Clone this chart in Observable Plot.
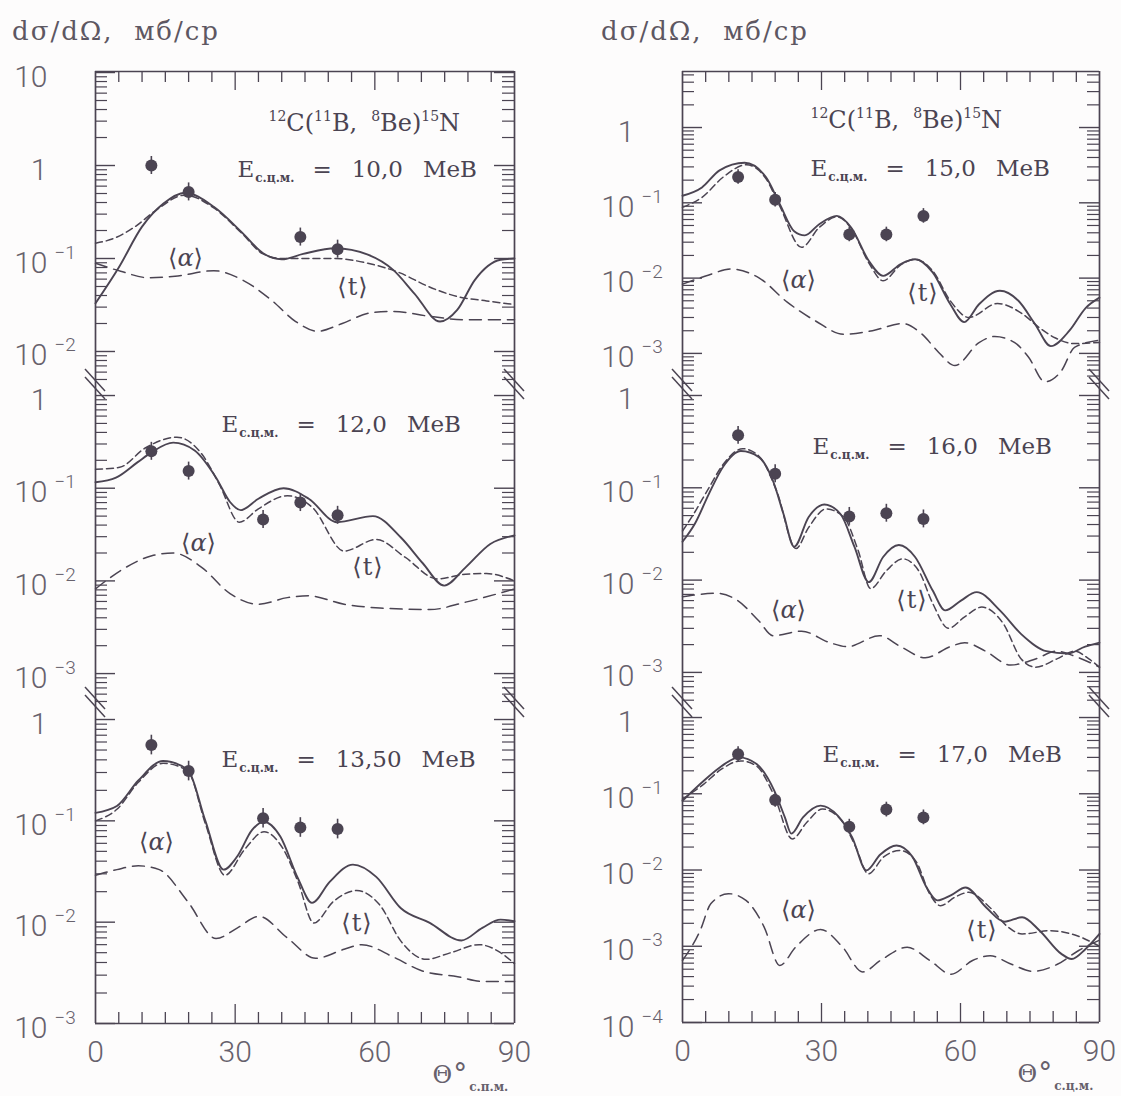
<!DOCTYPE html>
<html>
<head>
<meta charset="utf-8">
<script src="https://cdn.jsdelivr.net/npm/d3@7"></script>
<script src="https://cdn.jsdelivr.net/npm/@observablehq/plot@0.6"></script>
<style>
  body { margin: 0; background: #fdfcfc; }
  #fig { position: relative; width: 1121px; height: 1096px; overflow: hidden; background: #fdfcfc; }
  .head { position: absolute; font-family: "DejaVu Serif", serif; font-size: 26px; line-height: 26px;
          letter-spacing: 2px; color: #5d5762; white-space: pre; }
</style>
</head>
<body>
<div id="fig">
  <div class="head" style="left:12px; top:18px">dσ/dΩ,  мб/ср</div>
  <div class="head" style="left:601px; top:18px">dσ/dΩ,  мб/ср</div>
</div>
<script>
// ---- Angular grid of the frame (degrees, c.m.) ----
const xTicksMinor = [5, 10, 15, 20, 25, 35, 40, 45, 50, 55, 65, 70, 75, 80, 85];
const xTicksMajor = [30, 60];
const xTickLabels = [0, 30, 60, 90];

// ---- E = 10.0 MeV ----
const full10 = [[0,0.033],[5,0.08],[10,0.22],[14.6,0.39],[19.2,0.51],[25.4,0.36],[31.5,0.19],[36,0.114],[40,0.098],[44.6,0.112],[51.5,0.129],[58.5,0.11],[64,0.075],[68.5,0.042],[74,0.021],[77.7,0.028],[81.5,0.059],[87,0.097],[90,0.1]];
const triton10 = [[0,0.146],[4,0.165],[8.5,0.22],[13,0.33],[19.2,0.48],[25.4,0.35],[31.5,0.185],[36,0.112],[40,0.1],[45,0.1],[51.5,0.1],[58.5,0.089],[65.4,0.07],[71.5,0.05],[77.7,0.039],[84,0.035],[90,0.032]];
const alpha10 = [[0,0.089],[5.4,0.073],[11.5,0.062],[17.7,0.065],[25.4,0.074],[31.5,0.059],[37.7,0.036],[43,0.021],[47.7,0.0165],[53,0.02],[59,0.026],[64,0.027],[71.5,0.024],[79,0.022],[90,0.022]];
const exp10 = [[12,1.0],[20,0.52],[44,0.17],[52,0.126]];

// ---- E = 12.0 MeV ----
const full12 = [[0,0.116],[4.4,0.13],[9,0.19],[12.1,0.245],[16.7,0.31],[21.3,0.255],[25.9,0.13],[28.9,0.071],[31.2,0.058],[35,0.077],[40.4,0.1],[45.8,0.077],[51.9,0.043],[59.6,0.05],[65.7,0.029],[70.3,0.0155],[74.9,0.0089],[79.5,0.014],[84.8,0.025],[90,0.031]];
const triton12 = [[0,0.16],[5.2,0.168],[10.6,0.27],[17.5,0.355],[22.8,0.235],[26.6,0.11],[30.9,0.043],[35,0.06],[41.2,0.083],[46.6,0.062],[53.4,0.021],[60.3,0.028],[66.5,0.018],[73.4,0.0105],[79.5,0.0118],[84,0.012],[90,0.01]];
const alpha12 = [[0,0.0082],[6,0.0135],[12.1,0.0187],[16.7,0.02],[22.8,0.014],[28.9,0.0073],[35,0.0056],[41.2,0.0066],[45.8,0.0069],[53.4,0.0056],[61.1,0.0051],[71.8,0.0049],[79.5,0.0059],[90,0.0082]];
const exp12 = [[12,0.25],[20,0.153],[36,0.046],[44,0.07],[52,0.051]];

// ---- E = 13.50 MeV ----
const full135 = [[0,0.12],[4.6,0.14],[9.2,0.25],[14.5,0.39],[19.8,0.32],[23.6,0.1],[27.5,0.033],[30.5,0.045],[33.6,0.081],[36.2,0.098],[39.7,0.07],[43.5,0.027],[46.5,0.0155],[50.3,0.025],[55.3,0.037],[60.3,0.028],[65.6,0.0137],[71.7,0.0099],[78.6,0.0066],[83.1,0.0088],[87,0.0106],[90,0.0102]];
const triton135 = [[0,0.1],[4.6,0.13],[9.2,0.24],[14.5,0.37],[19.8,0.31],[23.6,0.094],[27.8,0.029],[32,0.052],[36.2,0.078],[40.4,0.052],[43.5,0.025],[46.9,0.0098],[51.1,0.016],[56.1,0.0205],[61.1,0.0147],[65.6,0.0065],[71,0.0043],[76.3,0.005],[82.4,0.006],[87,0.005],[90,0.0039]];
const alpha135 = [[0,0.029],[4.6,0.033],[9.2,0.036],[13.7,0.033],[19.8,0.016],[25.9,0.0069],[30.5,0.0088],[35.1,0.0114],[41.2,0.007],[47.3,0.0044],[53.4,0.0054],[57.2,0.006],[64.1,0.0045],[70.2,0.0033],[77.8,0.0029],[83.1,0.0026],[90,0.0026]];
const exp135 = [[12,0.56],[20,0.31],[36,0.106],[44,0.086],[52,0.083]];

// ---- E = 15.0 MeV ----
const full15 = [[0,0.124],[4.2,0.16],[8,0.27],[13.4,0.34],[18,0.22],[21,0.096],[24.1,0.042],[26.4,0.037],[29.5,0.052],[33.3,0.067],[36.4,0.047],[40.2,0.017],[43.3,0.0107],[47.1,0.0154],[50.2,0.0178],[54,0.0119],[57.8,0.0045],[60.8,0.0026],[64,0.0045],[68.5,0.0068],[72.5,0.005],[76,0.0025],[79.5,0.00125],[83.5,0.002],[87,0.004],[90,0.0055]];
const triton15 = [[0,0.087],[4.2,0.118],[8.8,0.22],[13.8,0.32],[18,0.21],[21,0.09],[25.7,0.0256],[29.5,0.047],[33.3,0.065],[36.4,0.046],[40.2,0.016],[43.3,0.0092],[47.1,0.015],[50.2,0.0178],[54,0.0125],[57.8,0.005],[61.8,0.003],[68,0.0046],[73.5,0.0033],[77,0.0022],[80.5,0.0016],[84.6,0.00135],[90,0.0014]];
const alpha15 = [[0,0.0083],[5.7,0.011],[10.3,0.0132],[16.5,0.0101],[22.6,0.0048],[28.7,0.0027],[34.8,0.0018],[41,0.002],[47.5,0.0025],[51.7,0.0018],[55.3,0.00103],[58.8,0.00069],[64,0.00139],[67.4,0.00168],[71.7,0.00139],[74.7,0.00089],[78.2,0.00042],[81.8,0.00059],[84.6,0.0012],[90,0.0015]];
const exp15 = [[12,0.22],[20,0.11],[36,0.038],[44,0.038],[52,0.067]];

// ---- E = 16.0 MeV ----
const full16 = [[0,0.026],[2.7,0.041],[5.7,0.086],[8.8,0.17],[12.6,0.25],[16.5,0.215],[19.5,0.12],[21.8,0.052],[24.1,0.023],[27.2,0.048],[30.6,0.066],[34.1,0.052],[37.1,0.023],[40.2,0.0095],[43.3,0.0178],[46.7,0.024],[50.2,0.0178],[54,0.0077],[56.7,0.0047],[60.1,0.006],[63.5,0.0074],[68.5,0.0047],[73.1,0.0026],[78.5,0.0017],[83.1,0.0016],[86.9,0.0019],[90,0.0021]];
const triton16 = [[0,0.034],[2.7,0.055],[5.7,0.1],[8.8,0.18],[13,0.265],[16.5,0.22],[20.3,0.093],[24.5,0.022],[27.2,0.037],[31,0.059],[34.8,0.048],[37.9,0.021],[40.6,0.0081],[44.1,0.0128],[47.5,0.017],[50.9,0.0128],[54,0.0056],[57.4,0.003],[60.9,0.004],[64.6,0.0051],[69.2,0.0034],[73.1,0.0014],[76.2,0.00114],[80.8,0.0014],[84.6,0.0017],[87.7,0.0014],[90,0.00114]];
const alpha16 = [[0,0.0066],[7.3,0.0072],[11.9,0.006],[16.5,0.0036],[19.5,0.0025],[25.7,0.0028],[31.8,0.0021],[35.6,0.0019],[42.5,0.0025],[47.1,0.0019],[52.4,0.00144],[57.8,0.0019],[60.9,0.0021],[65.4,0.0017],[70.8,0.0012],[76.2,0.0014],[80.8,0.0017],[84.6,0.0015],[90,0.00114]];
const exp16 = [[12,0.37],[20,0.142],[36,0.049],[44,0.053],[52,0.046]];

// ---- E = 17.0 MeV ----
const full17 = [[0,0.081],[4.6,0.148],[8.4,0.23],[12.2,0.3],[16,0.245],[19.8,0.11],[22.1,0.049],[23.5,0.03],[26,0.049],[29.8,0.07],[33.6,0.051],[36.6,0.027],[39.7,0.0099],[42.7,0.016],[46.2,0.021],[49.6,0.015],[52.7,0.0059],[55,0.004],[58,0.0047],[61.1,0.0059],[65.6,0.0032],[69.5,0.0021],[73.3,0.0024],[77.1,0.0016],[81.7,0.0008],[84,0.00068],[87,0.00092],[90,0.00145]];
const triton17 = [[0,0.085],[4.6,0.134],[8.4,0.21],[12.6,0.27],[16,0.23],[19.8,0.094],[23.7,0.0255],[26.8,0.042],[30.2,0.063],[34.4,0.044],[37.4,0.02],[40.1,0.0089],[43.5,0.015],[47,0.018],[50.4,0.013],[53.4,0.0048],[55.7,0.0034],[58.8,0.0044],[61.8,0.0051],[66.4,0.0032],[70.2,0.0018],[73.3,0.00145],[79.4,0.0016],[84,0.00145],[90,0.001]];
const alpha17 = [[0,0.00065],[3.8,0.0016],[6.1,0.0036],[9.9,0.0049],[13.7,0.004],[17.6,0.0018],[21,0.00056],[24.4,0.00097],[29.8,0.00166],[34.4,0.001],[38.9,0.00046],[42.7,0.00065],[48.5,0.00097],[53.4,0.00065],[58,0.00043],[62.6,0.00065],[66.4,0.00075],[71,0.00058],[75.6,0.00047],[80.9,0.00058],[85.5,0.00088],[90,0.0012]];
const exp17 = [[12,0.33],[20,0.083],[36,0.037],[44,0.062],[52,0.049]];

// relative error shown by the bars on the measured points
const relErr = 1.25;

// ---- styling ----
const INK = "#4b4452";
const LABEL = "#67616c";
const SERIF = "'DejaVu Serif', serif";
const NUM = "Roboto, 'Liberation Sans', sans-serif";

// ---- layout of the six panels (page pixels, log10 limits of each y axis) ----
const panels = [
  {col: 0, row: 0, energy: "10,0",  full: full10,  triton: triton10,  alpha: alpha10,  exp: exp10,
   frameTop: 71,  frameBottom: 384,  logLo: -2.355, logHi: 1.011,
   eAt: [142, 105], reactAt: [173, 59], alphaAt: [90, 187], tAt: [257, 216]},
  {col: 0, row: 1, energy: "12,0",  full: full12,  triton: triton12,  alpha: alpha12,  exp: exp12,
   frameTop: 384, frameBottom: 702,  logLo: -3.312, logHi: 0.119,
   eAt: [126, 47], alphaAt: [103, 159], tAt: [272, 183]},
  {col: 0, row: 2, energy: "13,50", full: full135, triton: triton135, alpha: alpha135, exp: exp135,
   frameTop: 702, frameBottom: 1023, logLo: -3.0, logHi: 0.168, theta: "с.п.м.",
   eAt: [126, 64], alphaAt: [61, 140], tAt: [261, 221]},
  {col: 1, row: 0, energy: "15,0",  full: full15,  triton: triton15,  alpha: alpha15,  exp: exp15,
   frameTop: 71,  frameBottom: 384,  logLo: -3.413, logHi: 0.744,
   eAt: [128, 104], reactAt: [128, 56], alphaAt: [116, 209], tAt: [240, 222]},
  {col: 1, row: 1, energy: "16,0",  full: full16,  triton: triton16,  alpha: alpha16,  exp: exp16,
   frameTop: 384, frameBottom: 702,  logLo: -3.326, logHi: 0.119,
   eAt: [130, 69], alphaAt: [106, 226], tAt: [229, 216]},
  {col: 1, row: 2, energy: "17,0",  full: full17,  triton: triton17,  alpha: alpha17,  exp: exp17,
   frameTop: 702, frameBottom: 1022, logLo: -4.0, logHi: 0.197, theta: "с.ц.м.",
   eAt: [140, 59], alphaAt: [116, 208], tAt: [299, 228]}
];
const columns = [
  {left: 0,   width: 560, frameLeft: 95,  frameRight: 514},
  {left: 560, width: 561, frameLeft: 682, frameRight: 1099}
];

const fig = document.getElementById("fig");

function logTicks(lo, hi) {
  const major = [], minor = [];
  for (let e = Math.floor(lo); e <= Math.ceil(hi); e++) {
    for (let k = 1; k <= 9; k++) {
      const v = k * Math.pow(10, e);
      const lv = Math.log10(v);
      if (lv < lo - 1e-9 || lv > hi + 1e-9) continue;
      (k === 1 ? major : minor).push(v);
    }
  }
  return {major, minor};
}

// replace the plain text of a tagged text mark by styled pieces
function rich(svg, tag, parts) {
  d3.select(svg).selectAll(`g[aria-description="${tag}"] text`).each(function () {
    const t = d3.select(this).text(null);
    for (const p of parts) {
      const s = t.append("tspan").text(p.t);
      if (p.dx != null) s.attr("dx", p.dx);
      if (p.dy != null) s.attr("dy", p.dy);
      if (p.size != null) s.attr("font-size", p.size);
      if (p.weight != null) s.attr("font-weight", p.weight);
      if (p.italic) s.attr("font-style", "italic");
    }
  });
}

const lineOpts = (extra) => ({x: d => d[0], y: d => d[1], curve: "monotone-x", stroke: INK, ...extra});

for (const p of panels) {
  const c = columns[p.col];
  const mL = c.frameLeft - c.left;
  const mR = c.left + c.width - c.frameRight;
  const mT = p.row === 0 ? 20 : 0;
  const mB = p.row === 2 ? 1096 - p.frameBottom : 0;
  const fw = c.frameRight - c.frameLeft;
  const fh = p.frameBottom - p.frameTop;
  const lo = Math.pow(10, p.logLo), hi = Math.pow(10, p.logHi);
  const {major, minor} = logTicks(p.logLo, p.logHi);

  const marks = [
    // frame sides
    Plot.ruleX([0, 90], {stroke: INK, strokeWidth: 1.7}),
    // log ticks on both sides, pointing inward
    Plot.ruleY(minor, {insetRight: fw - 12, stroke: INK, strokeWidth: 1.2}),
    Plot.ruleY(major, {insetRight: fw - 20, stroke: INK, strokeWidth: 1.4}),
    Plot.ruleY(minor, {insetLeft: fw - 12, stroke: INK, strokeWidth: 1.2}),
    Plot.ruleY(major, {insetLeft: fw - 20, stroke: INK, strokeWidth: 1.4}),
    // y tick labels: mantissa and exponent
    Plot.text(major, {x: 0, y: d => d, text: d => (Math.abs(Math.log10(d)) < 1e-9 ? "1" : "10"),
      textAnchor: "end", lineAnchor: "bottom", dx: -48, dy: 14, fontSize: 30, fontWeight: 300,
      fontFamily: NUM, fill: LABEL}),
    Plot.text(major.filter(d => d < 0.5), {x: 0, y: d => d, text: d => "−" + Math.round(-Math.log10(d)),
      textAnchor: "start", lineAnchor: "bottom", dx: -41, dy: 0, fontSize: 19, fontWeight: 300,
      fontFamily: NUM, fill: LABEL}),
    // model curves
    Plot.line(p.alpha, lineOpts({strokeWidth: 1.5, strokeDasharray: "12,7"})),
    Plot.line(p.triton, lineOpts({strokeWidth: 1.5, strokeDasharray: "7,4"})),
    Plot.line(p.full, lineOpts({strokeWidth: 1.9})),
    // measured cross sections with error bars
    Plot.ruleX(p.exp, {x: d => d[0], y1: d => d[1] / relErr, y2: d => d[1] * relErr, stroke: INK, strokeWidth: 1.6}),
    Plot.dot(p.exp, {x: d => d[0], y: d => d[1], r: 6, fill: INK, stroke: null}),
    // annotations
    Plot.text([`E с.ц.м. = ${p.energy} MeB`], {frameAnchor: "top-left", dx: p.eAt[0], dy: p.eAt[1],
      textAnchor: "start", lineAnchor: "bottom", fontFamily: SERIF, fontSize: 23, fill: INK, ariaDescription: "energy"}),
    Plot.text(["⟨α⟩"], {frameAnchor: "top-left", dx: p.alphaAt[0], dy: p.alphaAt[1],
      textAnchor: "middle", lineAnchor: "middle", fontFamily: SERIF, fontSize: 24, fill: INK, ariaDescription: "alpha-label"}),
    Plot.text(["⟨t⟩"], {frameAnchor: "top-left", dx: p.tAt[0], dy: p.tAt[1],
      textAnchor: "middle", lineAnchor: "middle", fontFamily: SERIF, fontSize: 24, fill: INK, ariaDescription: "t-label"})
  ];

  if (p.row === 0) {
    marks.push(
      Plot.ruleY([hi], {stroke: INK, strokeWidth: 1.7}),
      Plot.ruleX(xTicksMinor, {insetBottom: fh - 11, stroke: INK, strokeWidth: 1.3}),
      Plot.ruleX(xTicksMajor, {insetBottom: fh - 19, stroke: INK, strokeWidth: 1.3}),
      Plot.text(["12C(11B, 8Be)15N"], {frameAnchor: "top-left", dx: p.reactAt[0], dy: p.reactAt[1],
        textAnchor: "start", lineAnchor: "bottom", fontFamily: SERIF, fontSize: 24, fill: INK, ariaDescription: "reaction"})
    );
  }
  if (p.row === 2) {
    marks.push(
      Plot.ruleY([lo], {stroke: INK, strokeWidth: 1.7}),
      Plot.ruleX(xTicksMinor, {insetTop: fh - 11, stroke: INK, strokeWidth: 1.3}),
      Plot.ruleX(xTicksMajor, {insetTop: fh - 19, stroke: INK, strokeWidth: 1.3}),
      Plot.text(xTickLabels, {x: d => d, y: lo, text: d => String(d), textAnchor: "middle", lineAnchor: "bottom",
        dy: 38, fontSize: 30, fontWeight: 300, fontFamily: NUM, fill: LABEL}),
      Plot.text(["Θ° " + p.theta], {frameAnchor: "bottom-right", dx: -82, dy: 59, textAnchor: "start",
        lineAnchor: "bottom", fontFamily: SERIF, fontSize: 22, fill: LABEL, ariaDescription: "theta-title"})
    );
  }

  const svg = Plot.plot({
    width: c.width,
    height: fh + mT + mB,
    marginLeft: mL, marginRight: mR, marginTop: mT, marginBottom: mB,
    x: {domain: [0, 90], axis: null},
    y: {type: "log", domain: [lo, hi], axis: null},
    style: {background: "transparent", overflow: "visible", position: "absolute",
            left: c.left + "px", top: (p.frameTop - mT) + "px", maxWidth: "none"},
    marks
  });
  fig.appendChild(svg);

  rich(svg, "energy", [
    {t: "E", size: 23},
    {t: "с.ц.м.", size: 12, weight: "bold", dx: 1, dy: 5},
    {t: "=", size: 23, dx: 18, dy: -5},
    {t: p.energy, dx: 20},
    {t: "MeB", dx: 20}
  ]);
  rich(svg, "alpha-label", [{t: "⟨"}, {t: "α", italic: true}, {t: "⟩"}]);
  rich(svg, "t-label", [{t: "⟨"}, {t: "t", dx: 1}, {t: "⟩", dx: 1}]);
  if (p.row === 0) {
    rich(svg, "reaction", [
      {t: "12", size: 14, dy: -10}, {t: "C(", size: 24, dy: 10},
      {t: "11", size: 14, dy: -10}, {t: "B,", size: 24, dy: 10},
      {t: "8", size: 14, dx: 14, dy: -10}, {t: "Be)", size: 24, dy: 10},
      {t: "15", size: 14, dy: -10}, {t: "N", size: 24, dy: 10}
    ]);
  }
  if (p.row === 2) {
    rich(svg, "theta-title", [
      {t: "Θ", size: 24}, {t: "°", size: 28, dx: 1},
      {t: p.theta, size: 12, weight: "bold", dx: 2, dy: 8}
    ]);
  }

  // broken-axis marks where two panels meet
  if (p.row > 0) {
    const g = d3.select(svg).append("g").attr("stroke", INK).attr("stroke-width", 1.5);
    for (const bx of [mL, c.width - mR]) {
      for (const off of [-4, 4]) {
        g.append("line").attr("x1", bx - 10).attr("y1", off - 11).attr("x2", bx + 10).attr("y2", off + 11);
      }
    }
  }
}
</script>
</body>
</html>
